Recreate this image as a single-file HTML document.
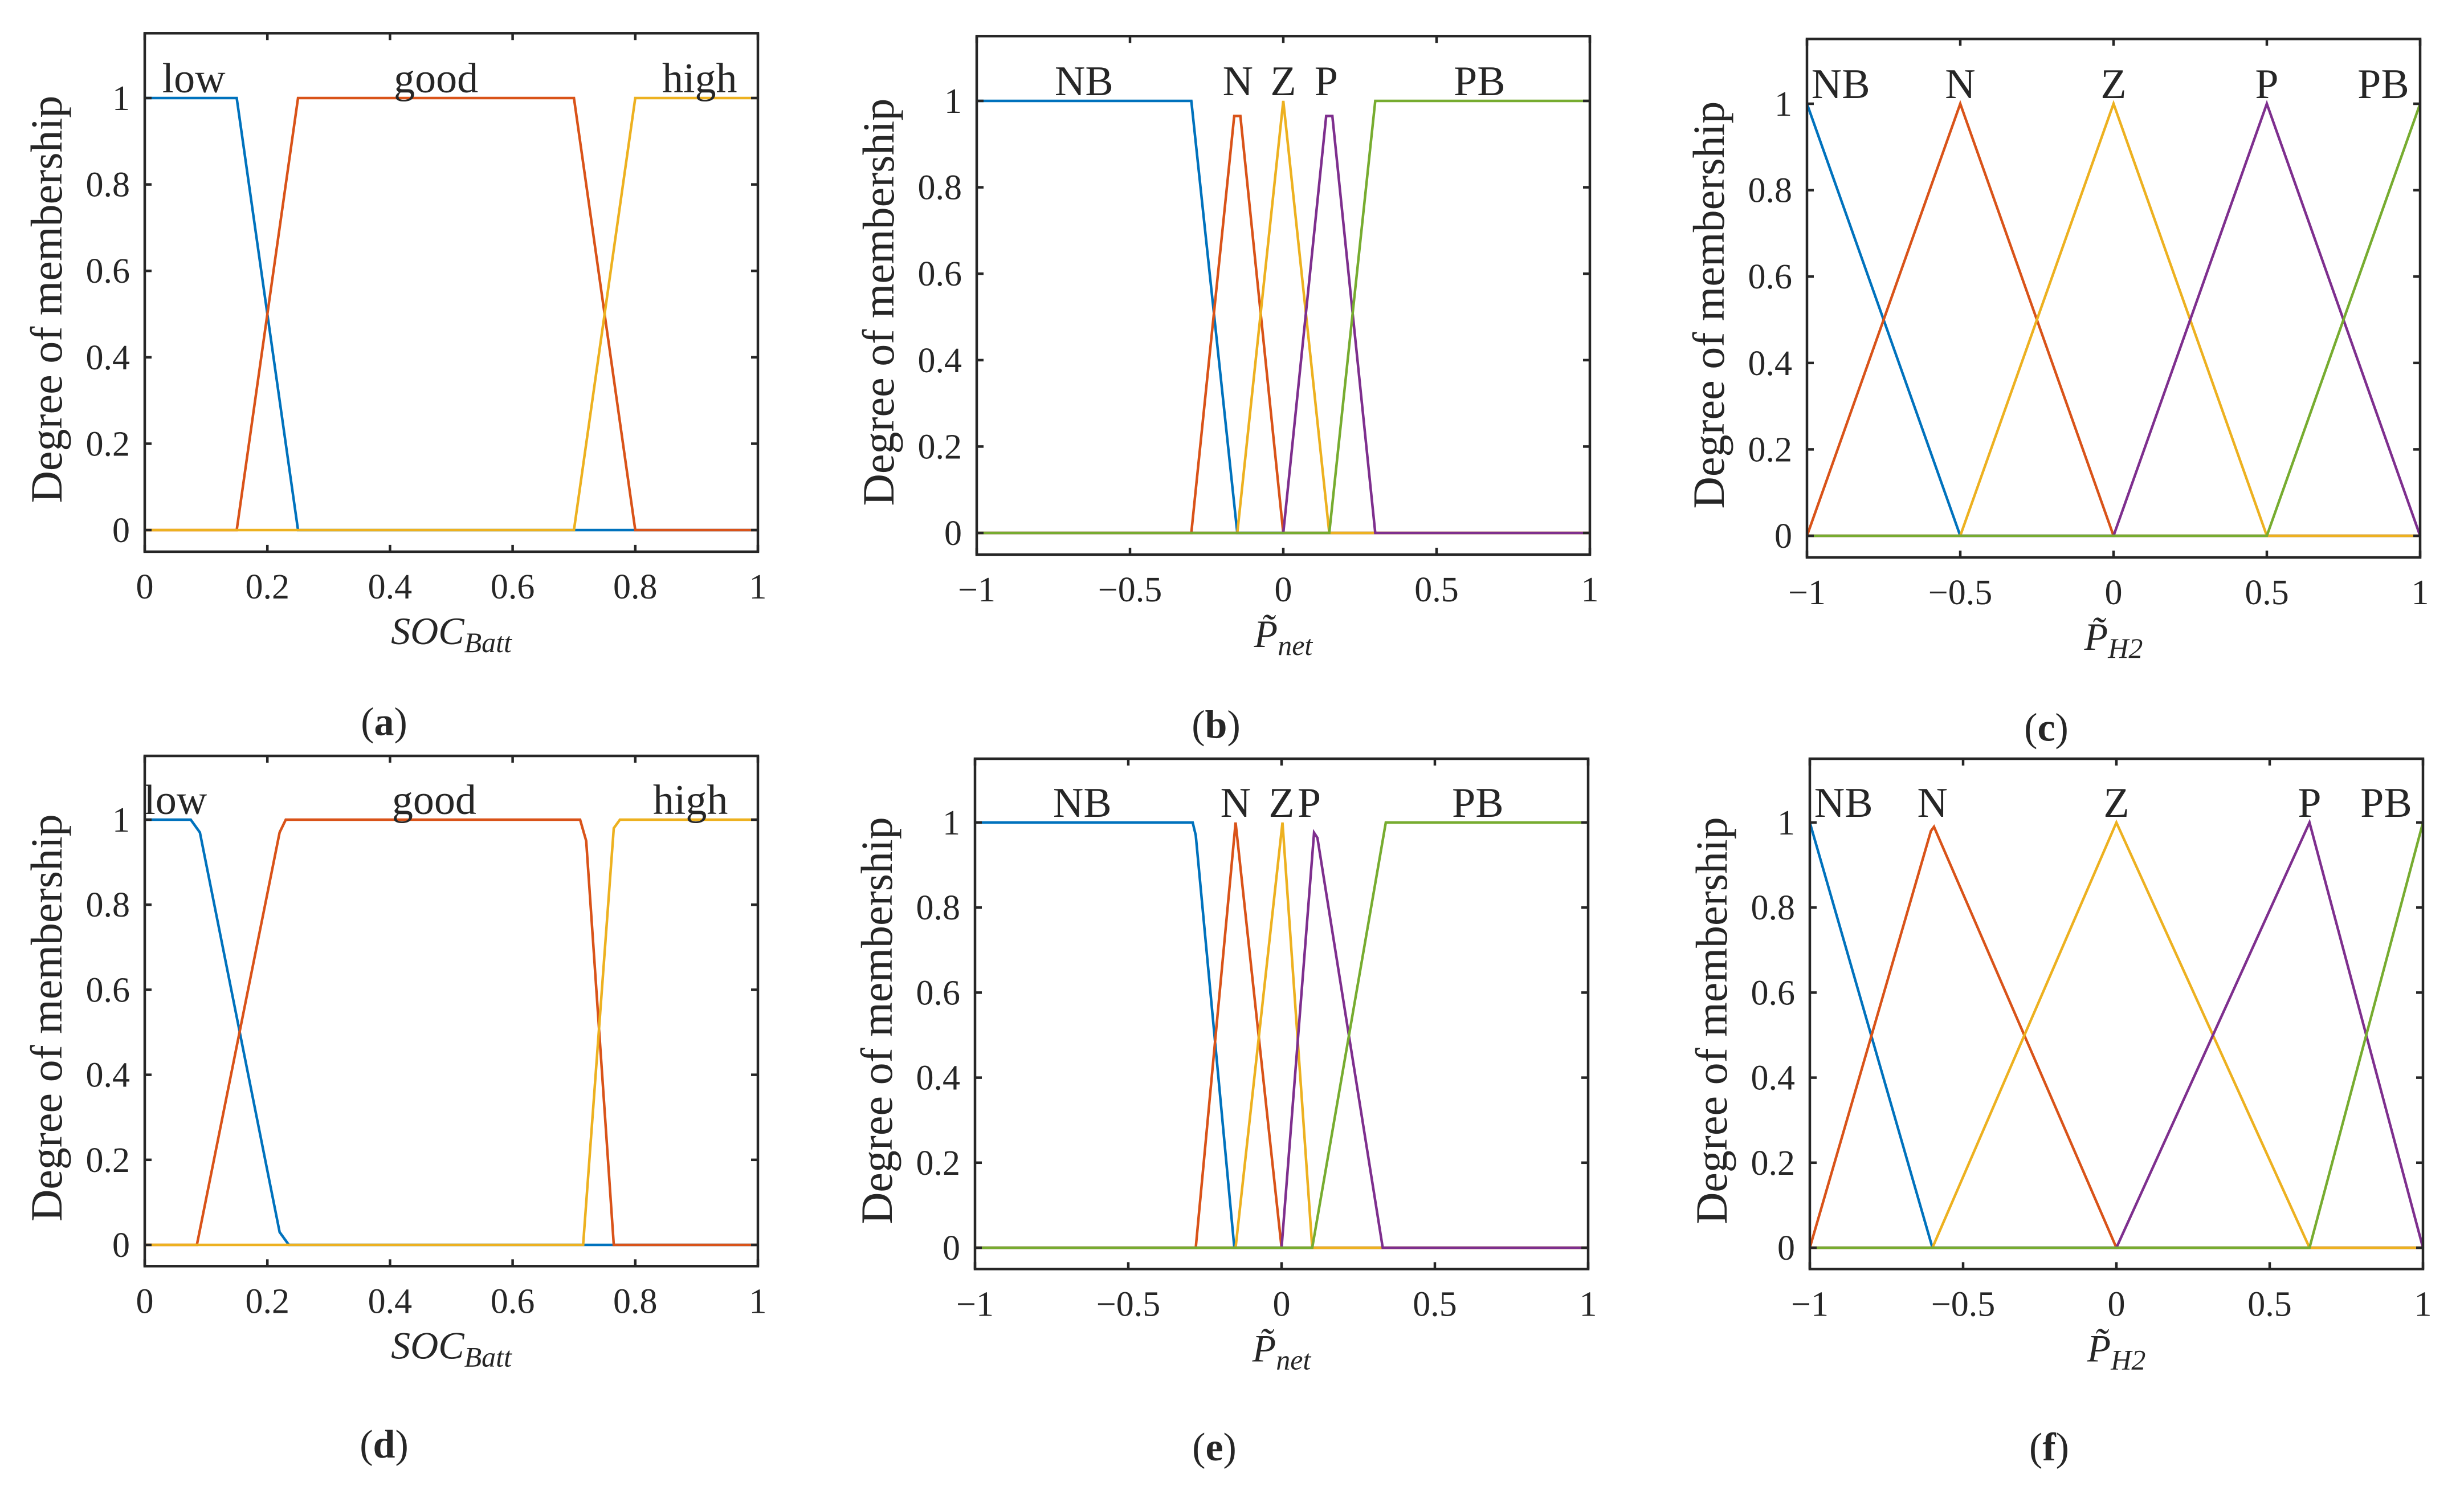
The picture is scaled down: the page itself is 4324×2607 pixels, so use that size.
<!DOCTYPE html>
<html><head><meta charset="utf-8">
<style>
html,body{margin:0;padding:0;background:#fff;}
svg{display:block;}
text{font-family:"Liberation Serif",serif;fill:#262626;}
</style></head>
<body>
<svg id="fig" width="4324" height="2607" viewBox="0 0 4324 2607" xmlns="http://www.w3.org/2000/svg"></svg>
<script>
// ---- data (x values / membership values per set) ----
const colors = ["#0072BD","#D95319","#EDB120","#7E2F8E","#77AC30"];
const xTicksSoc = [0,0.2,0.4,0.6,0.8,1];
const xTickLabelsSoc = ["0","0.2","0.4","0.6","0.8","1"];
const xTicksP = [-1,-0.5,0,0.5,1];
const xTickLabelsP = ["\u22121","\u22120.5","0","0.5","1"];
const yTicks = [0,0.2,0.4,0.6,0.8,1];
const yTickLabels = ["0","0.2","0.4","0.6","0.8","1"];

// (a)
const aLowX = [0,0.15,0.25,1];           const aLowY = [1,1,0,0];
const aGoodX = [0,0.15,0.25,0.7,0.8,1];  const aGoodY = [0,0,1,1,0,0];
const aHighX = [0,0.7,0.8,1];            const aHighY = [0,0,1,1];
const aNames = ["low","good","high"];    const aNameX = [0.08,0.475,0.905];
// (b)
const bNBX = [-1,-0.3,-0.15,1];          const bNBY = [1,1,0,0];
const bNX = [-1,-0.3,-0.16,-0.14,0,1];   const bNY = [0,0,0.965,0.965,0,0];
const bZX = [-1,-0.15,0,0.15,1];         const bZY = [0,0,1,0,0];
const bPX = [-1,0,0.14,0.16,0.3,1];      const bPY = [0,0,0.965,0.965,0,0];
const bPBX = [-1,0.15,0.3,1];            const bPBY = [0,0,1,1];
const bNames = ["NB","N","Z","P","PB"];  const bNameX = [-0.65,-0.148,0,0.14,0.64];
// (c)
const cNBX = [-1,-0.5,1];                const cNBY = [1,0,0];
const cNX = [-1,-0.5,0,1];               const cNY = [0,1,0,0];
const cZX = [-1,-0.5,0,0.5,1];           const cZY = [0,0,1,0,0];
const cPX = [-1,0,0.5,1];                const cPY = [0,0,1,0];
const cPBX = [-1,0.5,1];                 const cPBY = [0,0,1];
const cNames = ["NB","N","Z","P","PB"];  const cNameX = [-0.89,-0.5,0,0.5,0.88];
// (d)
const dLowX = [0,0.075,0.09,0.22,0.235,1];  const dLowY = [1,1,0.97,0.03,0,0];
const dGoodX = [0,0.085,0.22,0.23,0.71,0.72,0.765,1]; const dGoodY = [0,0,0.97,1,1,0.95,0,0];
const dHighX = [0,0.715,0.765,0.775,1];  const dHighY = [0,0,0.98,1,1];
const dNames = ["low","good","high"];    const dNameX = [0.05,0.472,0.89];
// (e)
const eNBX = [-1,-0.29,-0.28,-0.154,1];  const eNBY = [1,1,0.97,0,0];
const eNX = [-1,-0.28,-0.15,0,1];        const eNY = [0,0,1,0,0];
const eZX = [-1,-0.15,0.003,0.1,1];      const eZY = [0,0,1,0,0];
const ePX = [-1,0,0.106,0.117,0.33,1];   const ePY = [0,0,0.976,0.964,0,0];
const ePBX = [-1,0.1,0.34,1];            const ePBY = [0,0,1,1];
const eNames = ["NB","N","Z","P","PB"];  const eNameX = [-0.65,-0.15,0,0.09,0.64];
// (f)
const fNBX = [-1,-0.6,1];                const fNBY = [1,0,0];
const fNX = [-1,-0.605,-0.595,0,1];      const fNY = [0,0.98,0.99,0,0];
const fZX = [-1,-0.6,0,0.63,1];          const fZY = [0,0,1,0,0];
const fPX = [-1,0,0.63,1];               const fPY = [0,0,1,0];
const fPBX = [-1,0.63,1];                const fPBY = [0,0,1];
const fNames = ["NB","N","Z","P","PB"];  const fNameX = [-0.89,-0.6,0,0.63,0.88];

const NS = "http://www.w3.org/2000/svg";
const svg = document.getElementById("fig");
function mk(tag, attrs, parent){
  const e = document.createElementNS(NS, tag);
  for (const k in attrs) e.setAttribute(k, attrs[k]);
  (parent||svg).appendChild(e);
  return e;
}

function panel(cfg){
  const W = 1076, unit = cfg.unit;
  const left = cfg.left, y1 = cfg.y1, y0 = y1 + unit;
  const top = y1 - 0.15*unit, bottom = y0 + 0.05*unit;
  const xs = v => left + (v - cfg.xmin)/(cfg.xmax - cfg.xmin)*W;
  const ys = v => y0 - v*unit;
  const g = mk("g", {});
  
  
  // series
  cfg.series.forEach((s, i) => {
    const pts = s[0].map((x, j) => xs(x).toFixed(1) + "," + ys(s[1][j]).toFixed(1)).join(" ");
    const pl = mk("polyline", {points: pts, fill: "none", stroke: colors[i], "stroke-width": 4.5, "stroke-linejoin": "miter"}, g);
    
    
  });
  // axes box
  const box = mk("rect", {x: left, y: top, width: W, height: bottom - top, fill: "none", stroke: "#262626", "stroke-width": 4.5}, g);
  
  
  // x ticks
  cfg.xt.forEach((t, i) => {
    const x = xs(t);
    mk("line", {x1: x, y1: bottom, x2: x, y2: bottom - 12, stroke: "#262626", "stroke-width": 4.5}, g);
    mk("line", {x1: x, y1: top, x2: x, y2: top + 12, stroke: "#262626", "stroke-width": 4.5}, g);
    const tl = mk("text", {x: x, y: bottom + 82, "font-size": 62, "text-anchor": "middle"}, g);
    tl.textContent = cfg.xtl[i];
    
    
  });
  // y ticks
  yTicks.forEach((t, i) => {
    const y = ys(t);
    mk("line", {x1: left, y1: y, x2: left + 12, y2: y, stroke: "#262626", "stroke-width": 4.5}, g);
    mk("line", {x1: left + W, y1: y, x2: left + W - 12, y2: y, stroke: "#262626", "stroke-width": 4.5}, g);
    const tl = mk("text", {x: left - 26, y: y + 21, "font-size": 62, "text-anchor": "end"}, g);
    tl.textContent = yTickLabels[i];
    
    
  });
  // set names
  cfg.names.forEach((n, i) => {
    const t = mk("text", {x: xs(cfg.nameX[i]), y: y1 - 10, "font-size": 74, "text-anchor": "middle", fill: "#000"}, g);
    t.textContent = n;
    
    
  });
  // y label
  const ycy = (top + bottom)/2 + 12;
  const yl = mk("text", {x: 0, y: 0, "font-size": 78, "text-anchor": "middle", transform: "translate(" + (left - 146) + "," + ycy + ") rotate(-90)"}, g);
  yl.textContent = "Degree of membership";
  
  
  // x label
  const xl = mk("text", {x: left + W/2, y: bottom + 162, "font-size": 68, "text-anchor": "middle", "font-style": "italic"}, g);
  
  
  if (cfg.soc) {
    xl.innerHTML = 'SOC<tspan font-size="50" dy="14">Batt</tspan>';
  } else {
    xl.innerHTML = 'P\u0303<tspan font-size="50" dy="14">' + cfg.sub + '</tspan>';
  }
  // caption
  const cap = mk("text", {x: left + 420, y: top + 1231, "font-size": 70, "text-anchor": "middle", fill: "#000"}, g);
  cap.innerHTML = '(<tspan font-weight="bold">' + cfg.id + '</tspan>)';
  
  
}

panel({id:"a", left:254, y1:172, unit:758, xmin:0, xmax:1, xt:xTicksSoc, xtl:xTickLabelsSoc, soc:true,
  series:[[aLowX,aLowY],[aGoodX,aGoodY],[aHighX,aHighY]], names:aNames, nameX:aNameX});
panel({id:"b", left:1714, y1:177, unit:758, xmin:-1, xmax:1, xt:xTicksP, xtl:xTickLabelsP, sub:"net",
  series:[[bNBX,bNBY],[bNX,bNY],[bZX,bZY],[bPX,bPY],[bPBX,bPBY]], names:bNames, nameX:bNameX});
panel({id:"c", left:3171, y1:182, unit:758, xmin:-1, xmax:1, xt:xTicksP, xtl:xTickLabelsP, sub:"H2",
  series:[[cNBX,cNBY],[cNX,cNY],[cZX,cZY],[cPX,cPY],[cPBX,cPBY]], names:cNames, nameX:cNameX});
panel({id:"d", left:254, y1:1438, unit:746, xmin:0, xmax:1, xt:xTicksSoc, xtl:xTickLabelsSoc, soc:true,
  series:[[dLowX,dLowY],[dGoodX,dGoodY],[dHighX,dHighY]], names:dNames, nameX:dNameX});
panel({id:"e", left:1711, y1:1443, unit:746, xmin:-1, xmax:1, xt:xTicksP, xtl:xTickLabelsP, sub:"net",
  series:[[eNBX,eNBY],[eNX,eNY],[eZX,eZY],[ePX,ePY],[ePBX,ePBY]], names:eNames, nameX:eNameX});
panel({id:"f", left:3176, y1:1443, unit:746, xmin:-1, xmax:1, xt:xTicksP, xtl:xTickLabelsP, sub:"H2",
  series:[[fNBX,fNBY],[fNX,fNY],[fZX,fZY],[fPX,fPY],[fPBX,fPBY]], names:fNames, nameX:fNameX});
</script>
</body></html>
